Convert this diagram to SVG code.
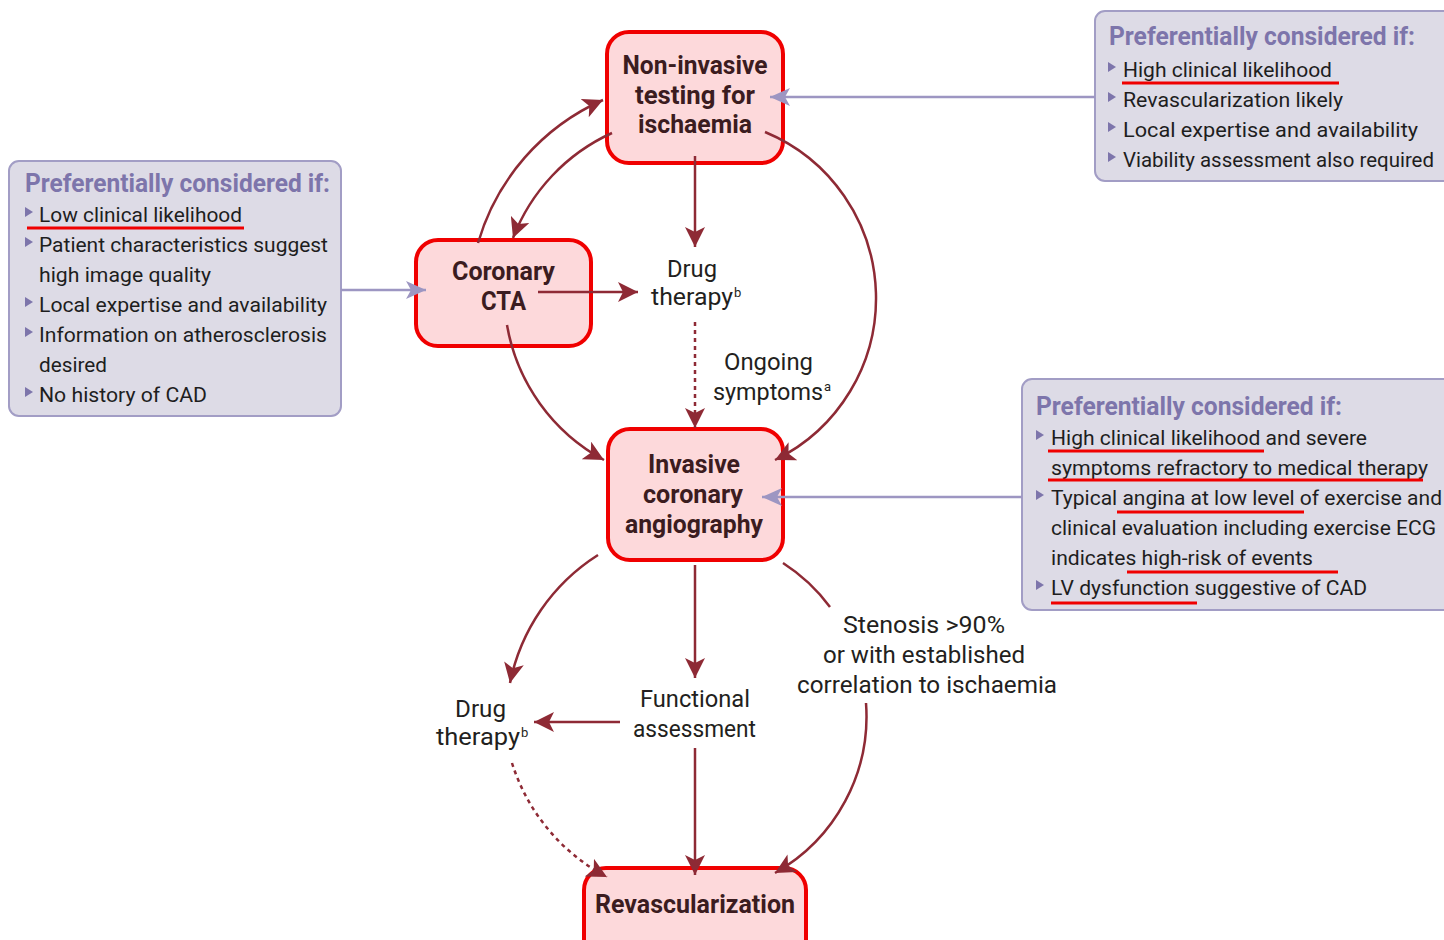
<svg xmlns="http://www.w3.org/2000/svg" xmlns:xlink="http://www.w3.org/1999/xlink" width="1444" height="940" viewBox="0 0 1444 940">
<style>
.node rect{fill:#fdd9db;stroke:#f00000;stroke-width:4}
.nt{font-family:Roboto,"Liberation Sans",sans-serif;font-weight:bold;font-size:25px;fill:#3b1c20;text-anchor:middle}
.lb{font-family:Roboto,"Liberation Sans",sans-serif;font-size:24px;fill:#231f20}
.sup{font-family:Roboto,"Liberation Sans",sans-serif;font-size:13px;fill:#231f20}
.box rect{fill:#dddbe6;stroke:#a29dc5;stroke-width:2}
.ttl{font-family:Roboto,"Liberation Sans",sans-serif;font-weight:bold;font-size:25px;fill:#7d75ab}
.it{font-family:Roboto,"Liberation Sans",sans-serif;font-size:21px;fill:#1e1e1e}
.bul{fill:#7d75ab}
.ul{stroke:#f00000;stroke-width:3;fill:none}
.c{fill:none;stroke:#8e2a35;stroke-width:2.5}
.d{stroke-dasharray:4 4}
.p{fill:none;stroke:#9d96c2;stroke-width:2.5}
</style>
<defs>
<marker id="ah" markerUnits="userSpaceOnUse" markerWidth="22" markerHeight="20" refX="20" refY="10" orient="auto"><path d="M0,0 L20,10 L0,20 L5,10 z" fill="#8e2a35"/></marker>
<marker id="ap" markerUnits="userSpaceOnUse" markerWidth="22" markerHeight="20" refX="20" refY="9" orient="auto"><path d="M0,0 L20,9 L0,18 L5,9 z" fill="#9d96c2"/></marker>
<path id="tri" d="M0,-5 L8,0 L0,5 z"/>
</defs>

<g id="noninvasive" class="node">
<rect x="607" y="32" width="176" height="131" rx="22"/>
<text class="nt" x="695" y="74" textLength="145" lengthAdjust="spacingAndGlyphs">Non-invasive</text>
<text class="nt" x="695" y="104" textLength="120" lengthAdjust="spacingAndGlyphs">testing for</text>
<text class="nt" x="695" y="133" textLength="114" lengthAdjust="spacingAndGlyphs">ischaemia</text>
</g>

<g id="cta" class="node">
<rect x="416" y="240" width="175" height="106" rx="22"/>
<text class="nt" x="503.5" y="280" textLength="103" lengthAdjust="spacingAndGlyphs">Coronary</text>
<text class="nt" x="503.5" y="310" textLength="45" lengthAdjust="spacingAndGlyphs">CTA</text>
</g>

<g id="invasive" class="node">
<rect x="608" y="429" width="175" height="131" rx="22"/>
<text class="nt" x="694" y="473" textLength="92" lengthAdjust="spacingAndGlyphs">Invasive</text>
<text class="nt" x="693" y="503" textLength="100" lengthAdjust="spacingAndGlyphs">coronary</text>
<text class="nt" x="694" y="533" textLength="138" lengthAdjust="spacingAndGlyphs">angiography</text>
</g>

<g id="revascularization" class="node">
<rect x="584" y="868" width="222" height="95" rx="22"/>
<text class="nt" x="695" y="913" textLength="200" lengthAdjust="spacingAndGlyphs">Revascularization</text>
</g>

<g id="drug1">
<text class="lb" x="667" y="277" textLength="50" lengthAdjust="spacingAndGlyphs">Drug</text>
<text class="lb" x="651" y="305" textLength="82" lengthAdjust="spacingAndGlyphs">therapy</text>
<text class="sup" x="734" y="297">b</text>
</g>

<g id="ongoing">
<text class="lb" x="724" y="370" textLength="89" lengthAdjust="spacingAndGlyphs">Ongoing</text>
<text class="lb" x="713" y="400" textLength="110" lengthAdjust="spacingAndGlyphs">symptoms</text>
<text class="sup" x="824" y="391">a</text>
</g>

<g id="drug2">
<text class="lb" x="455" y="717" textLength="51" lengthAdjust="spacingAndGlyphs">Drug</text>
<text class="lb" x="436" y="745" textLength="84" lengthAdjust="spacingAndGlyphs">therapy</text>
<text class="sup" x="521" y="737">b</text>
</g>

<g id="functional">
<text class="lb" x="640" y="707" textLength="110" lengthAdjust="spacingAndGlyphs">Functional</text>
<text class="lb" x="633" y="737" textLength="123" lengthAdjust="spacingAndGlyphs">assessment</text>
</g>

<g id="stenosis">
<text class="lb" x="843" y="633" textLength="162" lengthAdjust="spacingAndGlyphs">Stenosis &gt;90%</text>
<text class="lb" x="823" y="663" textLength="202" lengthAdjust="spacingAndGlyphs">or with established</text>
<text class="lb" x="797" y="693" textLength="260" lengthAdjust="spacingAndGlyphs">correlation to ischaemia</text>
</g>

<g id="box-left" class="box">
<rect x="9" y="161" width="332" height="255" rx="10"/>
<text class="ttl" x="25" y="192" textLength="305" lengthAdjust="spacingAndGlyphs">Preferentially considered if:</text>
<use href="#tri" class="bul" x="25" y="212"/>
<text class="it" x="39" y="222" textLength="203" lengthAdjust="spacingAndGlyphs">Low clinical likelihood</text>
<use href="#tri" class="bul" x="25" y="242"/>
<text class="it" x="39" y="252" textLength="289" lengthAdjust="spacingAndGlyphs">Patient characteristics suggest</text>
<text class="it" x="39" y="282" textLength="172" lengthAdjust="spacingAndGlyphs">high image quality</text>
<use href="#tri" class="bul" x="25" y="302"/>
<text class="it" x="39" y="312" textLength="288" lengthAdjust="spacingAndGlyphs">Local expertise and availability</text>
<use href="#tri" class="bul" x="25" y="332"/>
<text class="it" x="39" y="342" textLength="288" lengthAdjust="spacingAndGlyphs">Information on atherosclerosis</text>
<text class="it" x="39" y="372" textLength="68" lengthAdjust="spacingAndGlyphs">desired</text>
<use href="#tri" class="bul" x="25" y="392"/>
<text class="it" x="39" y="402" textLength="168" lengthAdjust="spacingAndGlyphs">No history of CAD</text>
<line class="ul" x1="27" y1="228" x2="244" y2="228"/>
</g>

<g id="box-top-right" class="box">
<rect x="1095" y="11" width="370" height="170" rx="10"/>
<text class="ttl" x="1109" y="45" textLength="306" lengthAdjust="spacingAndGlyphs">Preferentially considered if:</text>
<use href="#tri" class="bul" x="1108" y="67"/>
<text class="it" x="1123" y="77" textLength="209" lengthAdjust="spacingAndGlyphs">High clinical likelihood</text>
<use href="#tri" class="bul" x="1108" y="97"/>
<text class="it" x="1123" y="107" textLength="220" lengthAdjust="spacingAndGlyphs">Revascularization likely</text>
<use href="#tri" class="bul" x="1108" y="127"/>
<text class="it" x="1123" y="137" textLength="295" lengthAdjust="spacingAndGlyphs">Local expertise and  availability</text>
<use href="#tri" class="bul" x="1108" y="157"/>
<text class="it" x="1123" y="167" textLength="311" lengthAdjust="spacingAndGlyphs">Viability assessment also required</text>
<line class="ul" x1="1122" y1="83" x2="1339" y2="83"/>
</g>

<g id="box-right" class="box">
<rect x="1022" y="379" width="440" height="231" rx="10"/>
<text class="ttl" x="1036" y="415" textLength="306" lengthAdjust="spacingAndGlyphs">Preferentially considered if:</text>
<use href="#tri" class="bul" x="1036" y="435"/>
<text class="it" x="1051" y="445" textLength="316" lengthAdjust="spacingAndGlyphs">High clinical likelihood and severe</text>
<text class="it" x="1051" y="475" textLength="377" lengthAdjust="spacingAndGlyphs">symptoms refractory to medical therapy</text>
<use href="#tri" class="bul" x="1036" y="495"/>
<text class="it" x="1051" y="505" textLength="391" lengthAdjust="spacingAndGlyphs">Typical angina at low level of exercise and</text>
<text class="it" x="1051" y="535" textLength="385" lengthAdjust="spacingAndGlyphs">clinical evaluation including exercise ECG</text>
<text class="it" x="1051" y="565" textLength="262" lengthAdjust="spacingAndGlyphs">indicates high-risk of events</text>
<use href="#tri" class="bul" x="1036" y="585"/>
<text class="it" x="1051" y="595" textLength="316" lengthAdjust="spacingAndGlyphs">LV dysfunction suggestive of CAD</text>
<line class="ul" x1="1048" y1="451" x2="1264" y2="451"/>
<line class="ul" x1="1048" y1="480" x2="1423" y2="480"/>
<line class="ul" x1="1117" y1="512" x2="1304" y2="512"/>
<line class="ul" x1="1127" y1="572" x2="1338" y2="572"/>
<line class="ul" x1="1051" y1="603" x2="1197" y2="603"/>
</g>

<g id="connectors">
<path class="p" d="M1095,97 L770,97" marker-end="url(#ap)"/>
<path class="p" d="M341,290 L426,290" marker-end="url(#ap)"/>
<path class="p" d="M1022,497 L762,497" marker-end="url(#ap)"/>
<path class="c" d="M695,156 L695,247" marker-end="url(#ah)"/>
<path class="c" d="M538,292 L638,292" marker-end="url(#ah)"/>
<path class="c d" d="M695,322 L695,428" marker-end="url(#ah)"/>
<path class="c" d="M478,243 A 225 225 0 0 1 603,100" marker-end="url(#ah)"/>
<path class="c" d="M612,133 A 190 190 0 0 0 513,238" marker-end="url(#ah)"/>
<path class="c" d="M507,325 A 190 190 0 0 0 604,460" marker-end="url(#ah)"/>
<path class="c" d="M765,132 A 180 180 0 0 1 775,460" marker-end="url(#ah)"/>
<path class="c" d="M598,555 A 198 198 0 0 0 510,683" marker-end="url(#ah)"/>
<path class="c" d="M695,565 L695,678" marker-end="url(#ah)"/>
<path class="c" d="M620,722 L534,722" marker-end="url(#ah)"/>
<path class="c" d="M695,748 L695,875" marker-end="url(#ah)"/>
<path class="c d" d="M512,763 A 195 195 0 0 0 607,877" marker-end="url(#ah)"/>
<path class="c" d="M783,563 A 178 178 0 0 1 830,607"/>
<path class="c" d="M866,703 A 180 180 0 0 1 775,873" marker-end="url(#ah)"/>
</g>
</svg>
